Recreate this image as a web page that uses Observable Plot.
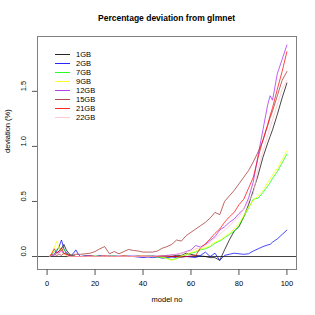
<!DOCTYPE html>
<html><head><meta charset="utf-8">
<script src="https://cdn.jsdelivr.net/npm/d3@7"></script>
<script src="https://cdn.jsdelivr.net/npm/@observablehq/plot@0.6"></script>
<style>
body{margin:0;background:#fff;font-family:"Liberation Sans",Arial,sans-serif;}
#wrap{position:relative;width:315px;height:315px;}
#title{position:absolute;left:37px;width:259px;top:12px;text-align:center;font-weight:bold;font-size:8.5px;line-height:12px;color:#000;}
#legend{position:absolute;left:55px;top:50px;font-size:7.5px;color:#000;}
.row{height:9px;display:flex;align-items:center;}
.sw{width:15px;height:1px;margin-right:6px;opacity:0.85;}
</style></head>
<body><div id="wrap"><div id="chart"></div><div id="title">Percentage deviation from glmnet</div><div id="legend"></div></div>
<script>
const models = [1,2,3,4,5,6,7,8,9,10,11,12,13,14,16,18,20,22,24,26,28,30,32,34,36,38,40,42,44,46,48,50,52,54,56,58,60,62,64,66,68,70,72,74,76,78,80,82,84,86,88,90,92,93,94,96,98,100];
const seriesNames = ["1GB","2GB","7GB","9GB","12GB","15GB","21GB","22GB"];
const seriesColors = ["#000000","#0000FF","#00FF00","#FFFF00","#A020F0","#A52A2A","#FF0000","#FFC0CB"];
const xTicks = [0,20,40,60,80,100];
const yTicks = [0,0.5,1,1.5];

const gb1 = [0,0.01,0.02,0.03,0.05,0.07,0.11,0.06,0.03,0.01,0.01,0,0,0,
  0.005,0.005,0,0.005,0,0.005,0,0,0.005,0,
  0,0.005,0,0,0.005,0,0.005,0.01,0.005,0.01,
  0.01,0.03,0.02,0.01,0.005,0,-0.01,-0.01,-0.035,0.06,
  0.15,0.23,0.27,0.36,0.47,0.6,0.74,0.9,1.03,1.09,1.15,
  1.29,1.44,1.575];
const gb2 = [0,0.01,0.02,0.05,0.09,0.15,0.07,0.03,0.01,0.01,0.03,0.06,0.02,0,
  0.005,0,0,0.005,0,0,0.005,0,0,0.005,
  0,-0.005,-0.01,-0.005,-0.01,-0.005,-0.015,-0.01,-0.005,-0.01,
  -0.005,0,-0.005,-0.01,0.01,0.04,0,0.03,-0.035,0.01,
  0.02,0.03,0.025,0.02,0.025,0.05,0.07,0.09,0.105,0.11,0.13,
  0.16,0.2,0.24];
const gb7 = [0,0.02,0.04,0.06,0.085,0.05,0.07,0.03,0.02,0.01,0,0,0,0,
  0,0,0.005,0,0,0,0.005,0,0,0,
  0,0,0,0.005,0,-0.005,-0.01,-0.015,-0.03,-0.02,
  0,0.015,0.03,0.04,0.06,0.07,0.09,0.12,0.14,0.17,
  0.2,0.23,0.28,0.36,0.44,0.52,0.53,0.58,0.64,0.67,0.71,
  0.77,0.85,0.93];
const gb9 = [0,0.03,0.08,0.14,0.07,0.04,0.02,0.01,0.005,0,0,0,0,0,
  0,0,0,0,0.005,0,0,0,0.005,0,
  0,0,0.005,0,0,0,-0.005,-0.02,-0.035,-0.015,
  0.005,0.02,0.035,0.05,0.07,0.08,0.1,0.13,0.15,0.18,
  0.21,0.25,0.3,0.37,0.45,0.51,0.55,0.6,0.67,0.7,0.74,
  0.8,0.88,0.96];
const gb12 = [0,0.02,0.01,0.04,0.03,0.06,0.02,0.04,0.01,0.005,0,0,0,0,
  0,0.005,0,0,0.005,0,0,0.005,0,0,
  0.005,0,0,0.005,0,0.005,0.005,0.01,0.015,0.02,
  0.03,0.045,0.06,0.1,0.085,0.11,0.145,0.18,0.24,0.27,
  0.31,0.34,0.39,0.43,0.53,0.68,0.92,1.15,1.38,1.46,1.42,
  1.66,1.79,1.92];
const gb15 = [0,0.01,0.02,0.01,0.02,0.01,0.03,0.02,0.02,0.01,0.02,0.02,0.02,0.02,
  0.025,0.03,0.045,0.07,0.09,0.025,0.045,0.025,0.045,0.064,
  0.055,0.05,0.04,0.04,0.04,0.05,0.075,0.09,0.11,0.15,
  0.14,0.19,0.22,0.25,0.28,0.31,0.35,0.4,0.38,0.5,
  0.55,0.6,0.66,0.72,0.78,0.86,0.95,1.05,1.19,1.26,1.32,
  1.46,1.6,1.68];
const gb21 = [0,0.03,0.07,0.03,0.05,0.08,0.03,0.02,0.01,0,0,0,0,0,
  0,0.005,0,0,0.005,0,0,0,0.005,0,
  0,0,0.005,0,0,0,0.005,0,0,0,
  -0.005,0,0.005,0.01,0.08,0.115,0.16,0.21,0.25,0.31,
  0.36,0.4,0.47,0.52,0.62,0.72,0.9,1.06,1.2,1.28,1.35,
  1.52,1.68,1.86];
const gb22 = [0,0.01,0.02,0.03,0.02,0.04,0.02,0.01,0,0,0,0,0,0,
  0,0,0,0,0,0,0,0,0,0,
  0,0,0,0,0,0.005,0.005,0.005,0.01,0.02,
  0.03,0.04,0.05,0.07,0.08,0.1,0.13,0.17,0.2,0.24,
  0.28,0.32,0.36,0.43,0.5,0.57,0.8,0.95,1.1,1.17,1.24,
  1.38,1.52,1.6];
const seriesValues = [gb1,gb2,gb7,gb9,gb12,gb15,gb21,gb22];

const rows = [];
seriesNames.forEach((name,i)=>{
  seriesValues[i].forEach((v,j)=>rows.push({model:models[j],dev:v,series:name}));
});

const chart = Plot.plot({
  width:315,height:315,marginLeft:37,marginRight:19,marginTop:36,marginBottom:46,
  style:{fontFamily:"Liberation Sans, Arial, sans-serif",fontSize:"7.5px",background:"white",color:"#000"},
  x:{domain:[-4,104]},
  y:{domain:[-0.118,1.998]},
  color:{domain:seriesNames,range:seriesColors},
  marks:[
    Plot.ruleY([0],{stroke:"#444",strokeWidth:1}),
    Plot.line(rows,{x:"model",y:"dev",z:"series",stroke:"series",strokeWidth:0.8,strokeOpacity:0.9}),
    Plot.frame({stroke:"#808080"}),
    Plot.axisX({ticks:xTicks,tickSize:6,tickPadding:5,stroke:"#555",label:null,tickFormat:d=>String(d)}),
    Plot.axisY({ticks:yTicks,tickSize:5,stroke:"#555",label:null,tickFormat:()=>""}),
    Plot.text(yTicks,{y:d=>d,text:d=>d.toFixed(1),frameAnchor:"left",rotate:-90,dx:-14}),
    Plot.text(["model no"],{frameAnchor:"bottom",dy:32,text:d=>d}),
    Plot.text(["deviation (%)"],{frameAnchor:"left",dx:-30,rotate:-90,text:d=>d})
  ]
});
document.getElementById("chart").appendChild(chart);

const leg = document.getElementById("legend");
seriesNames.forEach((name,i)=>{
  const r = document.createElement("div"); r.className="row";
  const s = document.createElement("span"); s.className="sw"; s.style.background=seriesColors[i];
  const t = document.createElement("span"); t.textContent=name;
  r.appendChild(s); r.appendChild(t); leg.appendChild(r);
});
</script>
</body></html>
